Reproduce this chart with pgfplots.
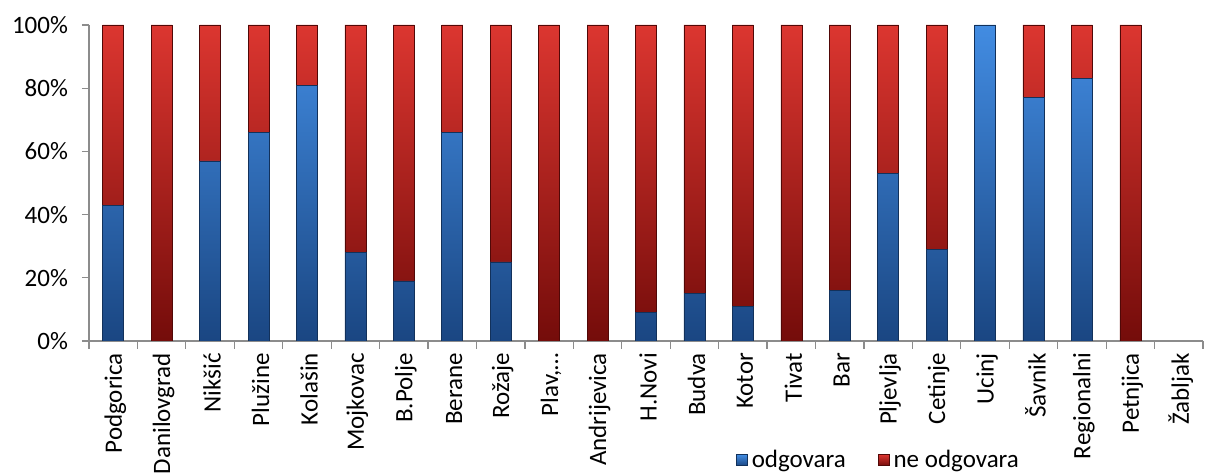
\documentclass[border=0pt]{standalone}
\usepackage{pgfplots}
\pgfplotsset{compat=1.18}
\usepackage{fontspec}
\setmainfont{Carlito}

\definecolor{bluetop}{RGB}{66,140,226}
\definecolor{bluebot}{RGB}{26,70,130}
\definecolor{redtop}{RGB}{220,54,48}
\definecolor{redbot}{RGB}{116,12,10}
\definecolor{axisgray}{RGB}{140,140,140}

% share of "odgovara" per municipality (percent); the rest is "ne odgovara"
\pgfplotstableread{
idx yes no
0  43 57
1  0  100
2  57 43
3  66 34
4  81 19
5  28 72
6  19 81
7  66 34
8  25 75
9  0  100
10 0  100
11 9  91
12 15 85
13 11 89
14 0  100
15 16 84
16 53 47
17 29 71
18 100 0
19 77 23
20 83 17
21 0  100
22 0  0
}\shares

\begin{document}
\begin{tikzpicture}[font=\fontsize{12.5}{15}\selectfont]
\useasboundingbox (0,0) rectangle (603pt,237.5pt);
\begin{axis}[
  at={(44.5pt,67pt)}, anchor=south west,
  scale only axis, width=557pt, height=158pt,
  ybar stacked, bar width=10.5pt,
  xmin=-0.5, xmax=22.5, ymin=0, ymax=100,
  axis x line*=bottom, axis y line*=left,
  axis line style={axisgray, line width=0.6pt},
  tick pos=left, tick align=outside,
  xtick={0,...,22},
  major x tick style={draw=none},
  minor xtick={-0.5,0.5,...,22.5},
  minor x tick style={axisgray, line width=0.6pt},
  minor tick length=4pt,
  ytick={0,20,40,60,80,100},
  yticklabels={0\%,20\%,40\%,60\%,80\%,100\%},
  major y tick style={axisgray, line width=0.6pt},
  major tick length=3.5pt,
  xticklabels={Podgorica,Danilovgrad,Nikšić,Plužine,Kolašin,Mojkovac,B.Polje,Berane,Rožaje,{Plav,…},Andrijevica,H.Novi,Budva,Kotor,Tivat,Bar,Pljevlja,Cetinje,Ucinj,Šavnik,Regionalni,Petnjica,Žabljak},
  xticklabel style={rotate=90, anchor=east, xshift=1pt, yshift=-1pt, font=\fontsize{12.5}{15}\selectfont},
  yticklabel style={xshift=-3.5pt, font=\fontsize{12.5}{15}\selectfont},
  legend style={at={(0.575,-0.377)}, anchor=west, draw=none, fill=none,
    font=\fontsize{12.5}{15}\selectfont,
    /tikz/every even column/.append style={column sep=14pt}},
  legend columns=2,
]
\addplot[shade, top color=bluetop, bottom color=bluebot, draw=bluebot!70!black, line width=0.3pt,
  legend image code/.code={\fill[fill=bluebot!80!bluetop] (0pt,-2.8pt) rectangle (5.6pt,2.8pt);}]
  table[x=idx, y=yes] {\shares};
\addplot[shade, top color=redtop, bottom color=redbot, draw=redbot!70!black, line width=0.3pt,
  legend image code/.code={\fill[fill=redbot!70!redtop] (0pt,-2.8pt) rectangle (5.6pt,2.8pt);}]
  table[x=idx, y=no] {\shares};
\legend{odgovara, ne odgovara}
\end{axis}
\end{tikzpicture}
\end{document}
